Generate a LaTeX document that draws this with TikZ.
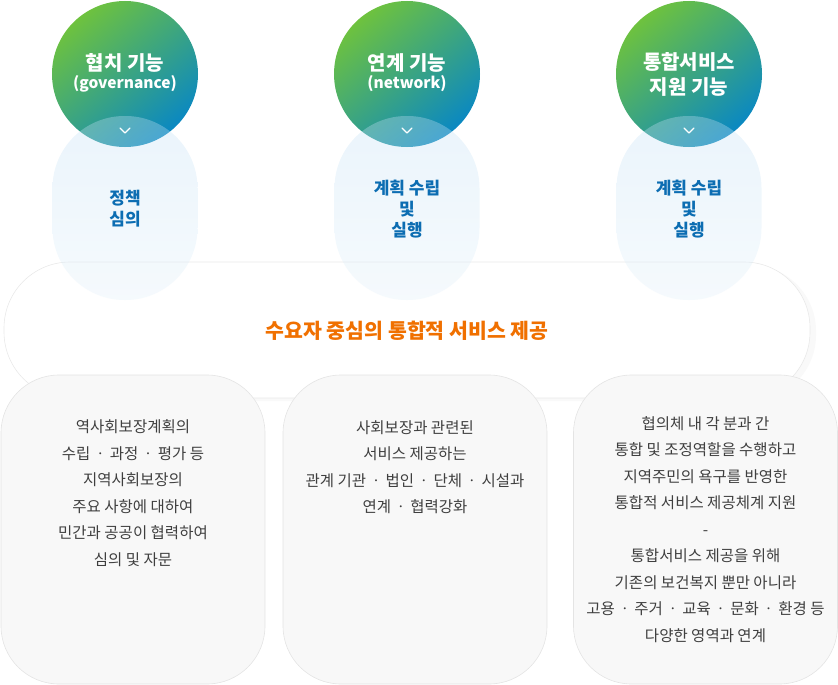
\documentclass[tikz,border=0pt]{standalone}
\usepackage{fontspec}
\setmainfont{Noto Sans CJK KR}
\usetikzlibrary{calc,shadows}
\definecolor{topgreen}{HTML}{6EC23E}
\definecolor{topblue}{HTML}{0A88C2}
\definecolor{pillblue}{HTML}{C2E0F4}
\definecolor{roleblue}{HTML}{0C6DB2}
\definecolor{aimorange}{HTML}{F07000}
\definecolor{boxgray}{HTML}{F8F8F8}
\definecolor{boxline}{HTML}{E4E4E4}
\definecolor{bodytext}{HTML}{3F3F3F}
\newcommand{\mdot}{\,ㆍ\,}
\tikzset{
    topcirc/.style={circle, inner sep=0pt, minimum size=146pt, top color=topgreen, bottom color=topblue, shading angle=40},
    toptext/.style={align=center, text=white, font=\bfseries\fontsize{20}{25}\selectfont},
    pill/.style={rectangle, rounded corners=72pt, minimum width=145pt, minimum height=184pt, top color=pillblue, bottom color=pillblue!45, fill opacity=0.34},
    roletext/.style={align=center, text=roleblue, font=\bfseries\fontsize{17}{21}\selectfont},
    detailbox/.style={rectangle, rounded corners=58pt, minimum width=264pt, minimum height=309pt, fill=boxgray, draw=boxline, line width=0.6pt},
    detailtext/.style={align=center, text=bodytext, font=\fontsize{15.5}{26.5}\selectfont},
    chev/.style={draw=white, line width=1.3pt, line cap=round, line join=round}
}
\begin{document}
\begin{tikzpicture}[x=1pt, y=-1pt]
\useasboundingbox (0,0) rectangle (838,685);
% center band
\node[rectangle, rounded corners=66pt, minimum width=806pt, minimum height=136pt, fill=white, draw=boxline!80, line width=0.6pt,
      drop shadow={shadow xshift=6pt, shadow yshift=-3pt, opacity=0.05}] (band) at (407,330) {};
\node[font=\bfseries\fontsize{20.5}{22}\selectfont, text=aimorange] (aim) at (407,331) {수요자 중심의 통합적 서비스 제공};

% three functions
\node[topcirc] (gov) at (125,74) {};
\node[topcirc] (net) at (407,74) {};
\node[topcirc] (sup) at (689,74) {};
\node[toptext] (govt) at (125,73) {협치 기능\\[-7pt]{\fontsize{15.5}{18}\selectfont (governance)}};
\node[toptext] (nett) at (407,73) {연계 기능\\[-7pt]{\fontsize{15.5}{18}\selectfont (network)}};
\node[toptext] (supt) at (689,74) {통합서비스\\지원 기능};

\node[pill] (govp) at (125,208) {};
\node[pill] (netp) at (407,208) {};
\node[pill] (supp) at (689,208) {};

\foreach \c in {gov,net,sup}
    \draw[chev] ($(\c)+(-5,54)$) -- ($(\c)+(0,59)$) -- ($(\c)+(5,54)$);

\node[roletext] (govr) at (125,209) {정책\\심의};
\node[roletext] (netr) at (407,209) {계획 수립\\및\\실행};
\node[roletext] (supr) at (689,209) {계획 수립\\및\\실행};

% details
\node[detailbox] (govd) at (133,529.5) {};
\node[detailbox] (netd) at (415,529.5) {};
\node[detailbox] (supd) at (705.5,529.5) {};
\node[detailtext] (govx) at (133,493) {역사회보장계획의\\수립\mdot 과정\mdot 평가 등\\지역사회보장의\\주요 사항에 대하여\\민간과 공공이 협력하여\\심의 및 자문};
\node[detailtext] (netx) at (415,467) {사회보장과 관련된\\서비스 제공하는\\관계 기관\mdot 법인\mdot 단체\mdot 시설과\\연계\mdot 협력강화};
\node[detailtext] (supx) at (705.5,529.5) {협의체 내 각 분과 간\\통합 및 조정역할을 수행하고\\지역주민의 욕구를 반영한\\통합적 서비스 제공체계 지원\\-\\통합서비스 제공을 위해\\기존의 보건복지 뿐만 아니라\\고용\mdot 주거\mdot 교육\mdot 문화\mdot 환경 등\\다양한 영역과 연계};
\end{tikzpicture}
\end{document}
